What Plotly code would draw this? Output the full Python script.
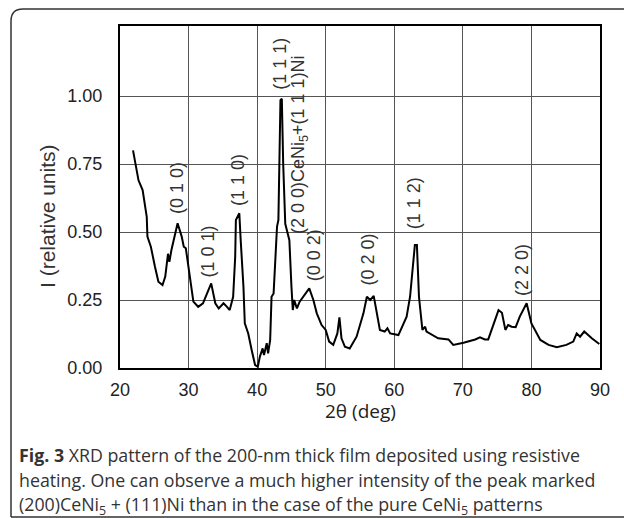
import plotly.graph_objects as go

# ---- data ----
two_theta = [21.9, 22.3, 22.7, 23.3, 23.9, 24.0, 24.5, 25.1, 25.6, 26.2, 26.6, 27.0, 27.2, 27.5,
             28.4, 29.0, 29.3, 29.6, 30.2, 30.7, 31.4, 32.1, 33.3, 33.9, 34.4, 35.1, 35.6, 36.0,
             36.5, 36.8, 36.9, 37.2, 37.4, 37.6, 38.0, 38.2, 38.7, 39.2, 39.7, 40.1, 40.4, 40.8,
             41.0, 41.4, 41.6, 41.9, 42.1, 42.4, 42.6, 42.9, 43.1, 43.2, 43.4, 43.6, 43.8, 44.1,
             44.7, 45.0, 45.2, 45.4, 45.8, 46.2, 47.0, 47.6, 48.2, 48.7, 49.4, 50.0, 50.5, 51.1,
             51.7, 52.0, 52.3, 52.8, 53.5, 54.5, 55.5, 56.0, 56.5, 57.0, 57.9, 58.6, 59.0, 59.4,
             60.6, 61.8, 62.3, 62.7, 63.0, 63.3, 63.6, 64.1, 64.5, 64.7, 65.5, 66.4, 67.9, 68.6,
             70.1, 71.8, 72.5, 73.2, 73.7, 74.4, 75.2, 75.7, 76.2, 76.6, 77.1, 77.7, 78.3, 79.3,
             80.0, 81.3, 82.5, 83.7, 85.1, 86.1, 86.6, 87.1, 87.7, 88.8, 89.9]
intensity = [0.80, 0.74, 0.69, 0.654, 0.556, 0.483, 0.446, 0.372, 0.317, 0.305, 0.336, 0.42, 0.39, 0.434,
             0.532, 0.483, 0.446, 0.44, 0.336, 0.244, 0.225, 0.238, 0.311, 0.238, 0.219, 0.238, 0.225, 0.213,
             0.262, 0.409, 0.544, 0.5625, 0.569, 0.47, 0.30, 0.164, 0.127, 0.066, 0.011, 0.005, 0.042, 0.072,
             0.048, 0.091, 0.054, 0.103, 0.262, 0.274, 0.372, 0.52, 0.544, 0.75, 0.985, 0.99, 0.75, 0.53,
             0.47, 0.30, 0.213, 0.25, 0.219, 0.244, 0.274, 0.293, 0.25, 0.201, 0.158, 0.14, 0.097, 0.085,
             0.127, 0.186, 0.109, 0.078, 0.072, 0.115, 0.201, 0.262, 0.25, 0.265, 0.14, 0.134, 0.146, 0.127,
             0.121, 0.189, 0.262, 0.36, 0.452, 0.452, 0.262, 0.14, 0.152, 0.134, 0.121, 0.109, 0.105, 0.085,
             0.093, 0.105, 0.113, 0.105, 0.105, 0.152, 0.213, 0.203, 0.14, 0.158, 0.152, 0.15, 0.189, 0.238,
             0.164, 0.103, 0.085, 0.076, 0.085, 0.097, 0.127, 0.115, 0.134, 0.109, 0.088]

peak_labels = ["(0 1 0)", "(1 0 1)", "(1 1 0)", "(1 1 1)", "(2 0 0)CeNi<sub>5</sub>+(1 1 1)Ni",
               "(0 0 2)", "(0 2 0)", "(1 1 2)", "(2 2 0)"]
peak_label_x = [28.4, 32.9, 37.3, 43.3, 46.25, 48.3, 56.2, 63.0, 78.6]
peak_label_y = [0.66, 0.43, 0.69, 1.118, 0.82, 0.415, 0.40, 0.605, 0.36]

x_ticks = [20, 30, 40, 50, 60, 70, 80, 90]
y_ticks = [0.0, 0.25, 0.5, 0.75, 1.0]
y_tick_text = ["0.00", "0.25", "0.50", "0.75", "1.00"]

caption_lines = [
    "<b>Fig. 3</b> XRD pattern of the 200-nm thick film deposited using resistive",
    "heating. One can observe a much higher intensity of the peak marked",
    "(200)CeNi<sub>5</sub> + (111)Ni than in the case of the pure CeNi<sub>5</sub> patterns",
]

# ---- layout geometry ----
W, H = 624, 518
ML, MR, MT, MB = 120, 24, 26, 150
PW, PH = W - ML - MR, H - MT - MB


def px2x(px):
    return (px - ML) / PW


def py2y(py):
    return (H - MB - py) / PH


ARIAL = "Liberation Sans"

fig = go.Figure()
fig.add_trace(go.Scatter(x=two_theta, y=intensity, mode="lines",
                         line=dict(color="black", width=2), showlegend=False))

LBL_FONT = dict(family=ARIAL, size=18, color="#333")
annotations = []
for t, x, y in zip(peak_labels, peak_label_x, peak_label_y):
    annotations.append(dict(x=x, y=y, xref="x", yref="y", text=t, textangle=-90,
                            showarrow=False, font=LBL_FONT, xanchor="center", yanchor="middle"))

# axis titles
annotations.append(dict(x=px2x(47), y=py2y(216), xref="paper", yref="paper",
                        text="I (relative units)", textangle=-90, showarrow=False,
                        font=dict(family=ARIAL, size=21, color="#333"),
                        xanchor="center", yanchor="middle"))
annotations.append(dict(x=0.5, y=py2y(411), xref="paper", yref="paper",
                        text="2θ (deg)", showarrow=False,
                        font=dict(family="Open Sans", size=19, color="#222"),
                        xanchor="center", yanchor="middle"))

# caption
for i, line in enumerate(caption_lines):
    annotations.append(dict(x=px2x(17), y=py2y(455 + 25 * i), xref="paper", yref="paper",
                            text=line, showarrow=False, align="left",
                            font=dict(family="Open Sans", size=17.8, color="#333"),
                            xanchor="left", yanchor="middle"))

# rounded outer frame
L, T, R, B, r = 11, 9, 640, 517, 12
path = (f"M {px2x(L)},{py2y(B)} L {px2x(L)},{py2y(T + r)} "
        f"Q {px2x(L)},{py2y(T)} {px2x(L + r)},{py2y(T)} "
        f"L {px2x(R)},{py2y(T)} L {px2x(R)},{py2y(B)} L {px2x(L)},{py2y(B)}")
shapes = [dict(type="path", path=path, xref="paper", yref="paper",
               line=dict(color="#333", width=1.5), fillcolor="rgba(0,0,0,0)", layer="below")]

fig.update_layout(
    width=W, height=H,
    margin=dict(l=ML, r=MR, t=MT, b=MB, autoexpand=False),
    paper_bgcolor="white", plot_bgcolor="white",
    annotations=annotations, shapes=shapes,
    xaxis=dict(range=[20, 90], tickvals=x_ticks, ticks="", ticklabelstandoff=4,
               showgrid=True, gridcolor="#555", gridwidth=1,
               showline=True, linecolor="black", linewidth=2, mirror=True,
               zeroline=False,
               tickfont=dict(family=ARIAL, size=18, color="#222")),
    yaxis=dict(range=[0, PH / 272], tickvals=y_ticks, ticktext=y_tick_text, ticks="",
               ticklabelstandoff=12,
               showgrid=True, gridcolor="#555", gridwidth=1,
               showline=True, linecolor="black", linewidth=2, mirror=True,
               zeroline=False,
               tickfont=dict(family=ARIAL, size=18, color="#222")),
)

fig.write_html("out.html")
